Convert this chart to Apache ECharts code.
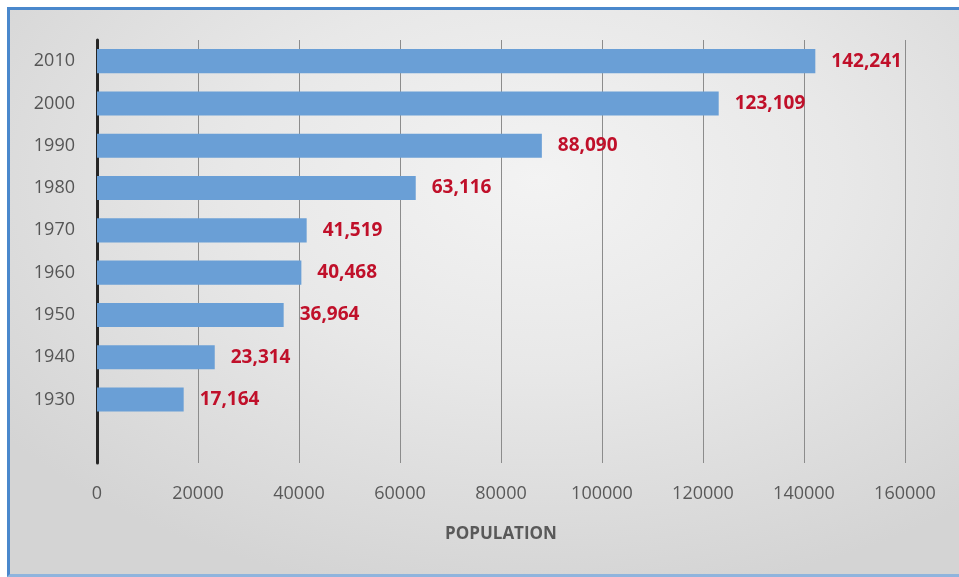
<!DOCTYPE html>
<html>
<head>
<meta charset="utf-8">
<script src="https://cdn.jsdelivr.net/npm/echarts@6/dist/echarts.min.js"></script>
<style>
  html, body { margin: 0; padding: 0; background: #fff; }
  #bg {
    position: absolute; left: 7px; top: 7px; width: 960px; height: 564px;
    border-left: 3px solid #4a88cc; border-top: 3px solid #4a88cc; border-bottom: 3px solid #8fb4dd;
    background: radial-gradient(ellipse 70% 75% at 55% 30%, #f3f3f3 0%, #e8e8e8 45%, #d4d4d4 100%);
  }
  #main { position: absolute; left: 0; top: 0; width: 959px; height: 577px; }
</style>
</head>
<body>
<div id="bg"></div>
<div id="main"></div>
<script>
var years = ['', '1930', '1940', '1950', '1960', '1970', '1980', '1990', '2000', '2010'];
var population = [null, 17164, 23314, 36964, 40468, 41519, 63116, 88090, 123109, 142241];
var xTicks = [0, 20000, 40000, 60000, 80000, 100000, 120000, 140000, 160000];

function withCommas(v){
    return String(v).replace(/\B(?=(\d{3})+(?!\d))/g, ',');
}

var chart = echarts.init(document.getElementById('main'));
var option = {
    backgroundColor: 'transparent',
    animation: false,
    grid: { left: 97, right: 54, top: 40, bottom: 114 },
    xAxis: {
        type: 'value',
        min: xTicks[0],
        max: xTicks[xTicks.length - 1],
        interval: xTicks[1] - xTicks[0],
        name: 'POPULATION',
        nameLocation: 'middle',
        nameGap: 63,
        nameTextStyle: { fontFamily: 'Open Sans', fontSize: 17, fontWeight: 'bold', color: '#595959' },
        axisLine: { show: false },
        axisTick: { show: false },
        axisLabel: {
            fontFamily: 'Open Sans', fontSize: 18, color: '#595959', margin: 22,
            formatter: function(v){ return String(v); }
        },
        splitLine: { show: true, lineStyle: { color: '#8c8c8c', width: 1 } }
    },
    yAxis: {
        type: 'category',
        data: years,
        axisLine: { show: true, lineStyle: { color: '#262626', width: 3 } },
        axisTick: { show: false },
        axisLabel: { fontFamily: 'Open Sans', fontSize: 18, color: '#555555', margin: 22 }
    },
    series: [{
        type: 'bar',
        data: population,
        barCategoryGap: '43%',
        itemStyle: { color: '#6a9fd6' },
        label: {
            show: true,
            position: 'right',
            distance: 16,
            fontFamily: 'Open Sans',
            fontSize: 19,
            fontWeight: 'bold',
            color: '#c0102a',
            formatter: function(p){ return withCommas(p.value); }
        }
    }]
};
chart.setOption(option);
</script>
</body>
</html>
